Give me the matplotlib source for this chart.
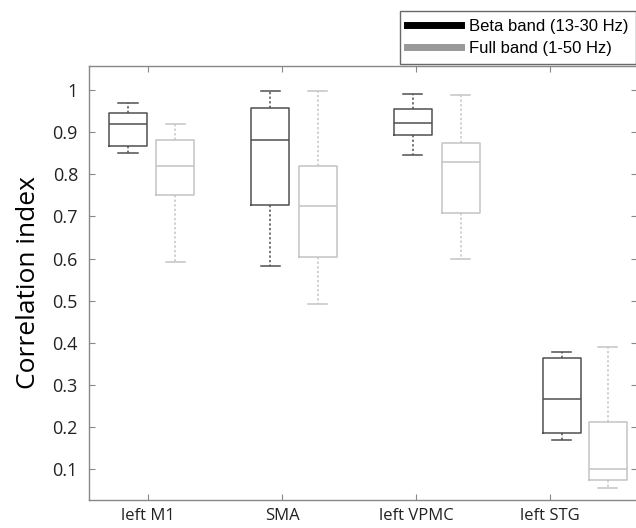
import numpy as np
import matplotlib.pyplot as plt
from matplotlib.lines import Line2D

# 領域名
regions = ["left M1", "SMA", "left VPMC", "left STG"]
series_names = ["Beta band (13-30 Hz)", "Full band (1-50 Hz)"]

# 箱ひげ図の統計量 (下ひげ, Q1, 中央値, Q3, 上ひげ)
beta_whislo = [0.850, 0.583, 0.846, 0.170]
beta_q1 = [0.868, 0.726, 0.893, 0.187]
beta_med = [0.920, 0.881, 0.922, 0.266]
beta_q3 = [0.945, 0.958, 0.956, 0.363]
beta_whishi = [0.970, 0.997, 0.990, 0.379]

full_whislo = [0.591, 0.492, 0.600, 0.056]
full_q1 = [0.751, 0.604, 0.708, 0.075]
full_med = [0.820, 0.724, 0.829, 0.101]
full_q3 = [0.882, 0.820, 0.874, 0.212]
full_whishi = [0.920, 0.998, 0.987, 0.390]

# 箱の配置
beta_pos = [0.851, 1.914, 2.978, 4.090]
full_pos = [1.205, 2.269, 3.336, 4.431]
box_width = 0.284

beta_color = "#505050"
full_color = "#c4c4c4"


def make_stats(lo, q1, med, q3, hi):
    return [dict(whislo=a, q1=b, med=c, q3=d, whishi=e, fliers=[])
            for a, b, c, d, e in zip(lo, q1, med, q3, hi)]


def draw_boxes(ax, stats, pos, color):
    line = dict(color=color, linewidth=1.1)
    ax.bxp(stats, positions=pos, widths=box_width, showfliers=False,
           boxprops=line, medianprops=line, capprops=line,
           whiskerprops=dict(color=color, linewidth=1.1, linestyle=(0, (1.5, 1.5))),
           capwidths=box_width * 0.5, manage_ticks=False)


fig = plt.figure(figsize=(6.36, 5.28), dpi=100)
ax = fig.add_axes([89 / 636, 28 / 528, 548 / 636, 434 / 528])

draw_boxes(ax, make_stats(beta_whislo, beta_q1, beta_med, beta_q3, beta_whishi), beta_pos, beta_color)
draw_boxes(ax, make_stats(full_whislo, full_q1, full_med, full_q3, full_whishi), full_pos, full_color)

ax.set_xlim(0.56, 4.65)
ax.set_ylim(0.027, 1.057)
ax.set_xticks(np.arange(1, len(regions) + 1))
ax.set_xticklabels(regions)
yticks = np.round(np.arange(0.1, 1.01, 0.1), 1)
ax.set_yticks(yticks)
ax.set_yticklabels([f"{v:g}" for v in yticks])

for sp in ax.spines.values():
    sp.set_color("#888888")
    sp.set_linewidth(1.0)
ax.tick_params(direction="in", length=4, width=0.8, color="#888888",
               top=True, right=True, labelsize=13, pad=8)
ax.tick_params(axis="x", labelsize=12, pad=6)
for lab in ax.get_xticklabels() + ax.get_yticklabels():
    lab.set_fontfamily("Open Sans")
    lab.set_color("#222222")

ax.set_ylabel("Correlation index", fontsize=19, fontfamily="Open Sans", labelpad=8)

# 凡例
handles = [Line2D([], [], color="black", linewidth=5),
           Line2D([], [], color="#999999", linewidth=5)]
leg = fig.legend(handles, series_names, loc="upper right",
                 bbox_to_anchor=(1.0, 0.979), frameon=True, fancybox=False,
                 prop=dict(family="Liberation Sans", size=12),
                 handlelength=3.2, handletextpad=0.5, labelspacing=0.45,
                 borderpad=0.45, borderaxespad=0.0)
leg.get_frame().set_edgecolor("#444444")
leg.get_frame().set_linewidth(1.0)

fig.savefig("out.png", dpi=100)
